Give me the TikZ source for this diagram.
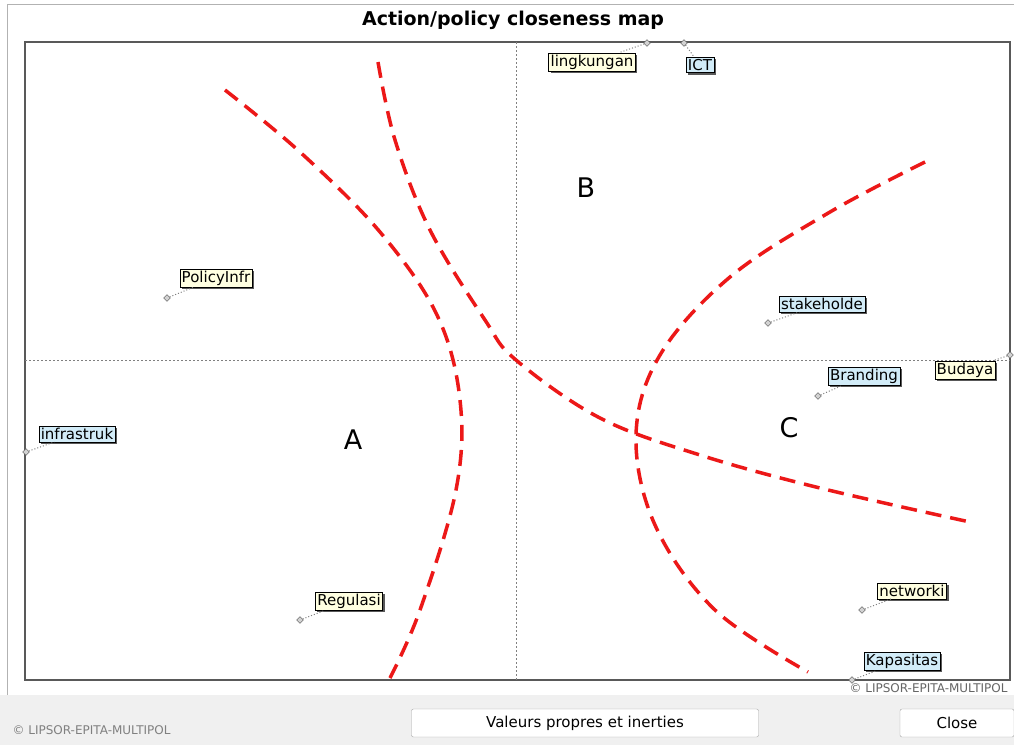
\documentclass[tikz,border=0pt]{standalone}
\usepackage{fontspec}
\setmainfont{DejaVu Sans}
\usepackage{xcolor}
\usetikzlibrary{shapes.geometric,shadows}
\definecolor{tipyellow}{RGB}{255,255,225}
\definecolor{tipblue}{RGB}{210,236,248}
\definecolor{mapred}{RGB}{236,24,24}
\definecolor{panelgray}{RGB}{240,240,240}
\tikzset{
    actlabel/.style={
        draw=black,
        inner sep=2pt,
        font=\fontsize{15}{15}\selectfont,
        drop shadow={shadow xshift=2pt, shadow yshift=-2pt, fill=black!65, opacity=1}
    },
    actpoint/.style={
        diamond,
        draw=gray!60!black,
        fill=gray!35,
        inner sep=0pt,
        minimum size=7pt
    },
    zoneline/.style={
        draw=mapred,
        line width=3.5pt,
        dash pattern=on 16pt off 9pt
    },
    axisline/.style={
        draw=gray,
        line width=0.6pt,
        dash pattern=on 2pt off 2pt
    },
    winbutton/.style={
        draw=gray!70,
        fill=white,
        rounded corners=2pt,
        minimum height=28pt,
        font=\fontsize{15}{15}\selectfont
    },
    zonename/.style={font=\fontsize{27}{27}\selectfont}
}

\begin{document}
\begin{tikzpicture}[x=1pt, y=-1pt]
  % Window and bottom panel
  \useasboundingbox (0,0) rectangle (1014,745);
  \fill[white] (0,0) rectangle (1014,745);
  \fill[panelgray] (0,695) rectangle (1014,745);
  \draw[gray!60] (7,695) -- (7,4) -- (1014,4);

  % Title
  \node[font=\bfseries\fontsize{19}{19}\selectfont] (title) at (513,20) {Action/policy closeness map};

  % Plot area and axes
  \draw[gray!70!black, line width=1.4pt] (25,42) rectangle (1010,680);
  \draw[axisline] (516,42) -- (516,680);
  \draw[axisline] (25,360) -- (1010,360);

  % Cluster borders
  \draw[zoneline] plot[smooth, tension=0.6] coordinates {(225,90) (300,152) (380,232) (437,315) (460,400) (456,490) (420,610) (390,678)};
  \draw[zoneline] plot[smooth, tension=0.6] coordinates {(378,62) (395,140) (430,230) (485,320) (516,360) (600,418) (700,455) (820,488) (970,522)};
  \draw[zoneline] plot[smooth, tension=0.6] coordinates {(925,162) (830,212) (730,277) (660,355) (636,435) (655,525) (715,610) (808,672)};

  % Cluster names
  \node[zonename] (zoneA) at (353,440) {A};
  \node[zonename] (zoneB) at (586,188) {B};
  \node[zonename] (zoneC) at (789,428) {C};

  % Actions: point x/y, label x/y, text, fill
  \foreach \px/\py/\lx/\ly/\txt/\col [count=\i] in {
      647/43/592/62/lingkungan/tipyellow,
      684/43/700/65/ICT/tipblue,
      167/298/216/278/PolicyInfr/tipyellow,
      26/452/77/434/infrastruk/tipblue,
      300/620/349/601/Regulasi/tipyellow,
      768/323/822/304/stakeholde/tipblue,
      818/396/864/376/Branding/tipblue,
      1010/355/965/370/Budaya/tipyellow,
      862/610/912/591/networki/tipyellow,
      852/680/902/661/Kapasitas/tipblue} {
    \node[actpoint] (p\i) at (\px,\py) {};
    \node[actlabel, fill=\col] (l\i) at (\lx,\ly) {\txt};
    \draw[gray, dotted, line width=1pt] (p\i) -- (l\i);
  }

  % Credits
  \node[gray!80!black, font=\fontsize{12}{12}\selectfont, anchor=east] (credit) at (1011,688) {© LIPSOR-EPITA-MULTIPOL};
  \node[gray, font=\fontsize{12}{12}\selectfont, anchor=west] (copyright) at (9,730) {© LIPSOR-EPITA-MULTIPOL};

  % Buttons
  \node[winbutton, minimum width=347pt] (values) at (585,723) {Valeurs propres et inerties};
  \node[winbutton, minimum width=114pt] (close) at (957,723) {Close};
\end{tikzpicture}
\end{document}
